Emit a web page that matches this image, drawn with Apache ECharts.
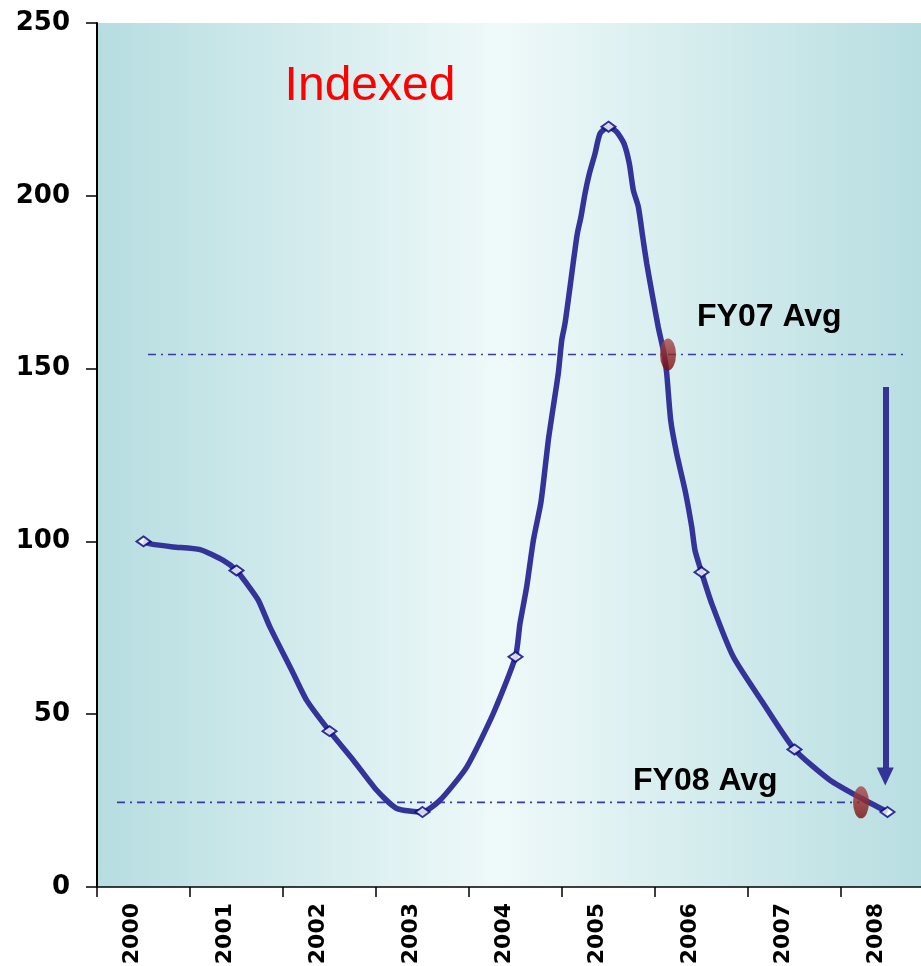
<!DOCTYPE html>
<html>
<head>
<meta charset="utf-8">
<script src="https://cdn.jsdelivr.net/npm/echarts@6/dist/echarts.min.js"></script>
<style>html,body{margin:0;padding:0;background:#fff;}#c{width:921px;height:966px;}</style>
</head>
<body>
<div id="c"></div>
<script>
// ---- data ----
const years = ['2000','2001','2002','2003','2004','2005','2006','2007','2008'];
const yearValues = [100, 91.6, 45.1, 21.7, 66.6, 220, 91.1, 39.8, 21.7];
// traced curve (x in year-band units, 0 = left edge of 2000 band)
const curveX = [0.5,0.588,0.82,1.108,1.358,1.5,1.61,1.734,1.86,2.094,2.255,2.5,2.756,3.008,3.223,3.5,3.688,3.975,4.261,4.5,4.548,4.62,4.692,4.771,4.799,4.853,4.906,4.96,4.997,5.032,5.086,5.129,5.165,5.204,5.247,5.294,5.355,5.409,5.5,5.588,5.667,5.724,5.767,5.821,5.868,5.911,5.975,6.035,6.097,6.126,6.169,6.233,6.323,6.395,6.43,6.5,6.61,6.842,7.165,7.5,7.882,8.223,8.5];
const curveY = [100,99.2,98.4,97.6,94.5,91.6,87.8,83.0,75.2,62.7,54.0,45.1,36.7,28.0,22.7,21.7,25.1,34.7,50.2,66.6,76.2,86.8,100.3,110.9,116.7,129.3,138.9,148.6,158.2,163.0,173.6,182.3,189.1,193.9,200.6,206.4,212.2,218.0,220,218.5,215.1,209.3,201.6,196.8,188.1,180.4,170.7,162.0,154.3,148.6,135.0,125.4,114.8,104.2,97.4,91.1,82.0,66.6,53.1,39.8,30.9,25.6,21.7];
const fy07Avg = 154.1;
const fy08Avg = 24.5;
const fy07Span = [0.548, 8.688];
const fy08Span = [0.215, 8.2];
const avgPoints = [[6.14, fy07Avg], [8.215, fy08Avg]];
const arrowX = 8.476, arrowFrom = 144.7, arrowTo = 32;
const yMin = 0, yMax = 250, yStep = 50;

const chart = echarts.init(document.getElementById('c'), null, {renderer: 'canvas'});
const curve = curveX.map((x, i) => [x, curveY[i]]);
const dashDot = [8, 5, 2, 5];

chart.setOption({
  animation: false,
  grid: {
    left: 97, top: 23, bottom: 79, right: -13,
    outerBoundsMode: 'none',
    show: true, borderWidth: 0,
    backgroundColor: new echarts.graphic.LinearGradient(0, 0, 1, 0, [
      {offset: 0, color: '#b6dde0'},
      {offset: 0.48, color: '#eff9f9'},
      {offset: 1, color: '#b6dde0'}
    ])
  },
  xAxis: [{
    type: 'category', data: years, boundaryGap: true,
    axisLine: {show: true, lineStyle: {color: '#000', width: 1.5}},
    axisTick: {show: true, length: 10, lineStyle: {color: '#000', width: 1.5}},
    axisLabel: {rotate: 90, margin: 16, color: '#000', fontFamily: 'DejaVu Sans', fontWeight: 'bold', fontSize: 22, verticalAlign: 'bottom', interval: 0},
    splitLine: {show: false}
  }, {
    type: 'value', min: 0, max: 9, show: false
  }],
  yAxis: {
    type: 'value', min: yMin, max: yMax, interval: yStep,
    axisLine: {show: true, lineStyle: {color: '#000', width: 2}},
    axisTick: {show: true, length: 11, lineStyle: {color: '#000', width: 1.5}},
    axisLabel: {margin: 27, color: '#000', fontFamily: 'DejaVu Sans', fontWeight: 'bold', fontSize: 26},
    splitLine: {show: false}
  },
  series: [
    {
      name: 'FY07 Avg', type: 'line', xAxisIndex: 1, symbol: 'none', silent: true, z: 2,
      data: [[fy07Span[0], fy07Avg], [fy07Span[1], fy07Avg]],
      lineStyle: {color: '#3a3aaa', width: 1.6, type: dashDot}
    },
    {
      name: 'FY08 Avg', type: 'line', xAxisIndex: 1, symbol: 'none', silent: true, z: 2,
      data: [[fy08Span[0], fy08Avg], [fy08Span[1], fy08Avg]],
      lineStyle: {color: '#3a3aaa', width: 1.6, type: dashDot}
    },
    {
      name: 'Indexed', type: 'line', xAxisIndex: 1, symbol: 'none', smooth: 0.2, z: 3,
      data: curve,
      lineStyle: {color: '#333399', width: 5.5},
      markLine: {
        silent: true, symbol: ['none', 'triangle'], symbolSize: [17, 18],
        label: {show: false},
        lineStyle: {color: '#333399', width: 6, type: 'solid'},
        data: [[{coord: [arrowX, arrowFrom]}, {coord: [arrowX, arrowTo]}]]
      }
    },
    {
      name: 'Years', type: 'scatter', xAxisIndex: 0, symbol: 'diamond', symbolSize: [14, 10], z: 5,
      data: yearValues,
      itemStyle: {color: '#fff', borderColor: '#000080', borderWidth: 2}
    },
    {
      name: 'Avg', type: 'scatter', xAxisIndex: 1, symbol: 'circle', symbolSize: [16, 32], z: 6,
      data: avgPoints,
      itemStyle: {color: new echarts.graphic.LinearGradient(0, 0, 0, 1, [
        {offset: 0, color: '#a84a4a'}, {offset: 1, color: '#7a0a0a'}
      ])}
    }
  ],
  graphic: [
    {type: 'text', z: 10, style: {text: 'Indexed', x: 370, y: 87, align: 'center', verticalAlign: 'middle', font: '48px "Liberation Sans", Arial', fill: '#ff0000'}},
    {type: 'text', z: 10, style: {text: 'FY07 Avg', x: 697, y: 317, align: 'left', verticalAlign: 'middle', font: 'bold 32px "Liberation Sans", Arial', fill: '#000'}},
    {type: 'text', z: 10, style: {text: 'FY08 Avg', x: 633, y: 781, align: 'left', verticalAlign: 'middle', font: 'bold 32px "Liberation Sans", Arial', fill: '#000'}}
  ]
});
</script>
</body>
</html>
